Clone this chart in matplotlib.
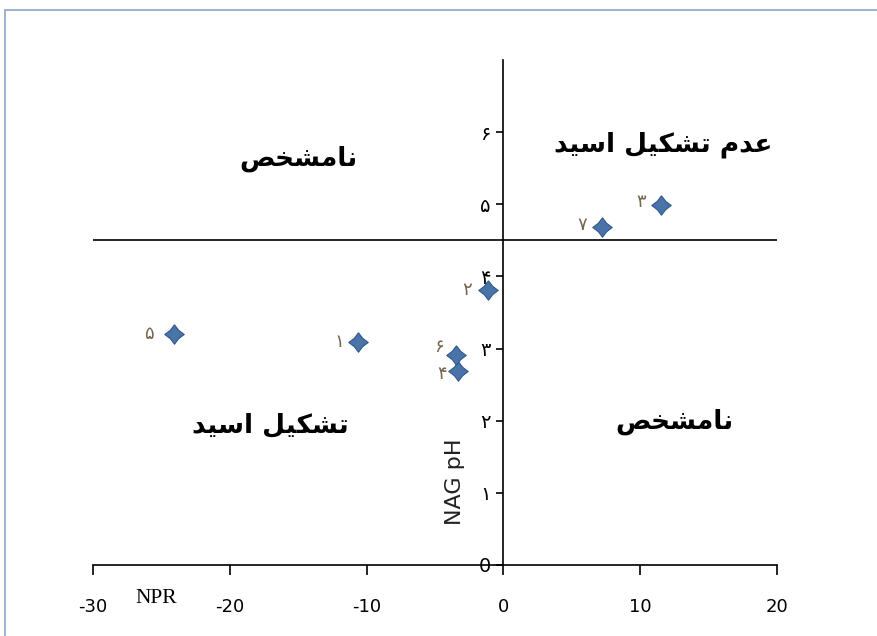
import matplotlib
matplotlib.use("Agg")
import matplotlib.pyplot as plt
from matplotlib.patches import Rectangle

# data
npr = [-10.6, -1.1, 11.5, -3.3, -24.1, -3.5, 7.2]
nag_ph = [3.09, 3.81, 4.99, 2.69, 3.2, 2.91, 4.68]
point_labels = ["۱", "۲", "۳", "۴", "۵", "۶", "۷"]
label_offsets = [(-14, 0), (-15, 0), (-14, 2), (-12, -2), (-18, 0), (-12, 6), (-14, 2)]
x_ticks = [-30, -20, -10, 0, 10, 20]
y_ticks = [0, 1, 2, 3, 4, 5, 6]
y_tick_labels = ["0", "۱", "۲", "۳", "۴", "۵", "۶"]
divider_ph = 4.5
quadrant_text = [
    (-15, 5.63, "نامشخص"),
    (11.7, 5.82, "عدم تشکیل اسید"),
    (-17, 1.94, "تشکیل اسید"),
    (12.5, 1.98, "نامشخص"),
]

# presentation forms: isolated, final, initial, medial (None = right-joining only)
FORMS = {
    "ا": ("\uFE8D", "\uFE8E", None, None),
    "د": ("\uFEA9", "\uFEAA", None, None),
    "ن": ("\uFEE5", "\uFEE6", "\uFEE7", "\uFEE8"),
    "م": ("\uFEE1", "\uFEE2", "\uFEE3", "\uFEE4"),
    "ش": ("\uFEB5", "\uFEB6", "\uFEB7", "\uFEB8"),
    "خ": ("\uFEA5", "\uFEA6", "\uFEA7", "\uFEA8"),
    "ص": ("\uFEB9", "\uFEBA", "\uFEBB", "\uFEBC"),
    "ع": ("\uFEC9", "\uFECA", "\uFECB", "\uFECC"),
    "ت": ("\uFE95", "\uFE96", "\uFE97", "\uFE98"),
    "س": ("\uFEB1", "\uFEB2", "\uFEB3", "\uFEB4"),
    "ل": ("\uFEDD", "\uFEDE", "\uFEDF", "\uFEE0"),
    "ک": ("\uFB8E", "\uFB8F", "\uFB90", "\uFB91"),
    "ی": ("\uFBFC", "\uFBFD", "\uFBFE", "\uFBFF"),
}


def shape(s):
    # join letters and flip to visual order, since matplotlib draws left to right
    out = []
    for i, c in enumerate(s):
        if c not in FORMS:
            out.append(c)
            continue
        prev = s[i - 1] if i > 0 else ""
        nxt = s[i + 1] if i + 1 < len(s) else ""
        join_prev = prev in FORMS and FORMS[prev][2] is not None
        join_next = FORMS[c][2] is not None and nxt in FORMS
        iso, fin, ini, med = FORMS[c]
        if join_prev and join_next:
            out.append(med)
        elif join_prev:
            out.append(fin)
        elif join_next:
            out.append(ini)
        else:
            out.append(iso)
    return "".join(out)[::-1]


# diamond with slightly pinched sides, like the spreadsheet marker
diamond = [(0, 1), (0.43, 0.43), (1, 0), (0.43, -0.43), (0, -1),
           (-0.43, -0.43), (-1, 0), (-0.43, 0.43), (0, 1)]

fig = plt.figure(figsize=(8.77, 6.36), dpi=100)
ax = fig.add_axes([93 / 877, 71 / 636, 684 / 877, 505 / 636])

ax.set_xlim(-30, 20)
ax.set_ylim(0, 7)

for s in ["top", "right"]:
    ax.spines[s].set_visible(False)
ax.spines["left"].set_position(("data", 0))
ax.spines["left"].set_linewidth(1.2)
ax.spines["bottom"].set_linewidth(1.2)
ax.axhline(divider_ph, color="black", lw=1.2)

ax.set_xticks(x_ticks)
ax.set_xticklabels([str(v) for v in x_ticks], fontsize=13)
ax.tick_params(axis="x", direction="out", length=7, width=1.2, pad=17)
ax.set_yticks(y_ticks)
ax.set_yticklabels(y_tick_labels, fontsize=14)
ax.tick_params(axis="y", direction="out", length=5, width=1.2, pad=4)

ax.plot(npr, nag_ph, linestyle="none", marker=diamond, color="#4a74a8",
        markeredgecolor="#2f5a8a", markeredgewidth=0.8, markersize=14, zorder=3)
for x, y, lab, off in zip(npr, nag_ph, point_labels, label_offsets):
    ax.annotate(lab, (x, y), xytext=off, textcoords="offset points",
                ha="center", va="center", fontsize=13, color="#76654f")

for x, y, t in quadrant_text:
    ax.text(x, y, shape(t), ha="center", va="center", fontsize=19,
            fontweight="bold", color="black")

ax.text(-3.55, 1.15, "NAG pH", rotation=90, ha="center", va="center",
        fontsize=16, color="#222222")
ax.text(-25.4, -0.47, "NPR", ha="center", va="center", fontsize=15.5,
        family="Liberation Serif")

# thin frame round the picture
fig.patches.append(Rectangle((5 / 877, -0.02), 2, (636 - 10) / 636 + 0.02,
                             transform=fig.transFigure, fill=False,
                             edgecolor="#8da6c6", lw=1.2))

fig.savefig("out.png", dpi=100)
